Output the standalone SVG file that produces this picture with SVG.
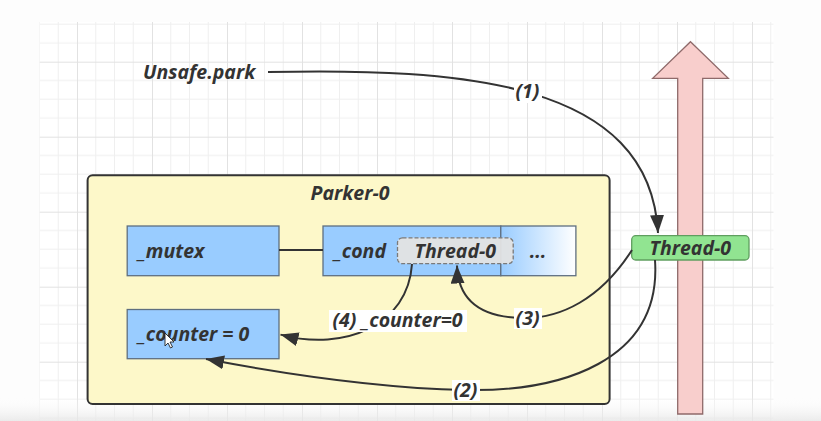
<svg xmlns="http://www.w3.org/2000/svg" width="821" height="421" viewBox="0 0 821 421">
  <defs>
    <pattern id="grid" patternUnits="userSpaceOnUse" x="2" y="-13.3" width="75" height="75">
      <path d="M18.75 0V75M37.5 0V75M56.25 0V75M0 18.75H75M0 37.5H75M0 56.25H75" stroke="#efefef" stroke-width="1" fill="none"/>
      <path d="M0.5 0V75M0 0.5H75" stroke="#e2e2e2" stroke-width="1" fill="none"/>
    </pattern>
    <linearGradient id="fade" x1="0" y1="0" x2="1" y2="0">
      <stop offset="0" stop-color="#99ccff"/>
      <stop offset="1" stop-color="#ffffff"/>
    </linearGradient>
    <linearGradient id="shade" x1="0" y1="0" x2="0" y2="1">
      <stop offset="0" stop-color="#ffffff" stop-opacity="0"/>
      <stop offset="1" stop-color="#e6e6e6" stop-opacity="0.8"/>
    </linearGradient>
    <marker id="arr" markerUnits="userSpaceOnUse" markerWidth="20" markerHeight="16" refX="18" refY="7" orient="auto">
      <path d="M0 0 L18 7 L0 14 Z" fill="#333"/>
    </marker>
    <style>
      .t { font-family: "Open Sans", "Noto Sans", "Liberation Sans", sans-serif; font-weight: bold; font-style: italic; font-size: 19.5px; fill: #333; }
      .blue { fill: #99ccff; stroke: #5f6f80; stroke-width: 1.3; }
      .edge { fill: none; stroke: #333; stroke-width: 2; }
      .lbl { fill: #ffffff; }
    </style>
  </defs>

  <rect width="821" height="421" fill="#fdfdfd"/>
  <rect x="39.5" y="22" width="734" height="399" fill="#ffffff"/>
  <rect x="39.5" y="22" width="734" height="399" fill="url(#grid)"/>
  <rect x="0" y="396" width="821" height="25" fill="url(#shade)"/>

  <g id="timeline">
    <path d="M690.5 41.7 L728.3 78.3 L702.7 78.3 L702.7 414 L677.7 414 L677.7 78.3 L652.7 78.3 Z" fill="#f8cecc" stroke="#8f6a6a" stroke-width="1.3"/>
  </g>

  <g id="unsafe-park">
    <text class="t" x="143" y="79">Unsafe.park</text>
  </g>

  <g id="parker-0">
    <rect x="87.6" y="175.2" width="522" height="228.8" rx="5" fill="#fdf8c9" stroke="#333" stroke-width="2"/>
    <text class="t" x="350" y="200" text-anchor="middle">Parker-0</text>
  </g>

  <g id="mutex">
    <rect class="blue" x="127.2" y="226" width="151.8" height="49.7"/>
    <text class="t" x="138" y="258">_mutex</text>
  </g>

  <g id="cond">
    <rect class="blue" x="323" y="226" width="177.8" height="49.7"/>
    <rect x="500.8" y="226" width="75.1" height="49.7" fill="url(#fade)" stroke="#5f6f80" stroke-width="1.3"/>
    <text class="t" x="334" y="258">_cond</text>
    <text class="t" x="538" y="258" text-anchor="middle">...</text>
  </g>

  <g id="cond-thread-0">
    <rect x="397.5" y="237.8" width="115.7" height="25.9" rx="5" fill="#e3e3e3" fill-opacity="0.95" stroke="#7a7a7a" stroke-width="1.3" stroke-dasharray="4 2"/>
    <text class="t" x="455.3" y="258" text-anchor="middle">Thread-0</text>
  </g>

  <g id="counter">
    <rect class="blue" x="127.2" y="309.5" width="151.8" height="49.2"/>
    <text class="t" x="138" y="341">_counter = 0</text>
    <path d="M165 333 L165 346 L168 343 L170.5 348 L172.5 347 L170 342 L174 342 Z" fill="#ffffff" stroke="#222" stroke-width="0.9"/>
  </g>

  <g id="thread-0">
    <rect x="631.7" y="235.7" width="117.3" height="24.3" rx="4" fill="#91e491" stroke="#5f9e5f" stroke-width="1.3"/>
    <text class="t" x="690.3" y="255" text-anchor="middle">Thread-0</text>
  </g>

  <g id="connectors">
    <line class="edge" x1="279" y1="250" x2="323" y2="250"/>
    <path class="edge" d="M268 72 C460 68 650 80 658 233" marker-end="url(#arr)"/>
    <rect class="lbl" x="514" y="81" width="28" height="22"/>
    <text class="t" x="527.5" y="98" text-anchor="middle">(1)</text>

    <path class="edge" d="M655 260 C662 362 560 392 465 390 C380 388 290 375 206 359" marker-end="url(#arr)"/>
    <rect class="lbl" x="452" y="380" width="28" height="21"/>
    <text class="t" x="465.5" y="397" text-anchor="middle">(2)</text>

    <path class="edge" d="M632 250 C600 300 560 318 525 318 C475 318 458 296 457 265.5" marker-end="url(#arr)"/>
    <rect class="lbl" x="514" y="308" width="28" height="21"/>
    <text class="t" x="527.6" y="325" text-anchor="middle">(3)</text>

    <path class="edge" d="M412 264 C408 325 345 352 280.5 334.6" marker-end="url(#arr)"/>
    <rect class="lbl" x="329" y="310" width="138" height="22"/>
    <text class="t" x="397.5" y="327" text-anchor="middle">(4) _counter=0</text>
  </g>
</svg>
